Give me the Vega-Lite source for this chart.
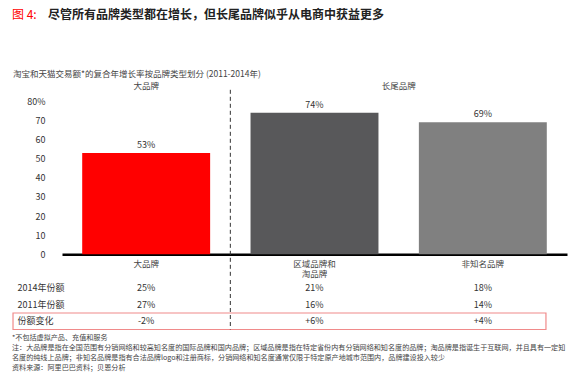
{
  "$schema": "https://vega.github.io/schema/vega-lite/v6.json",
  "padding": {"left": 12, "right": 10, "top": 8, "bottom": 4},
  "background": "white",
  "config": {
    "font": "Noto Sans CJK SC",
    "view": {"stroke": null},
    "concat": {"spacing": 0},
    "axis": {"labelOverlap": false}
  },
  "title": {
    "text": "图 4:",
    "subtitle": "\u200B\u3000\u3000\u3000尽管所有品牌类型都在增长，但长尾品牌似乎从电商中获益更多",
    "anchor": "start",
    "fontSize": 12,
    "fontWeight": "normal",
    "color": "#FF0000",
    "subtitleFontSize": 12,
    "subtitleFontWeight": "bold",
    "subtitleColor": "#222222",
    "subtitlePadding": -12,
    "offset": 48
  },
  "datasets": {
    "bars": [
      {"cat": "大品牌", "value": 53, "label": "53%"},
      {"cat": "区域品牌和淘品牌", "value": 74, "label": "74%"},
      {"cat": "非知名品牌", "value": 69, "label": "69%"}
    ],
    "table": [
      {"row": "2014年份额", "cat": "大品牌", "text": "25%"},
      {"row": "2014年份额", "cat": "区域品牌和淘品牌", "text": "21%"},
      {"row": "2014年份额", "cat": "非知名品牌", "text": "18%"},
      {"row": "2011年份额", "cat": "大品牌", "text": "27%"},
      {"row": "2011年份额", "cat": "区域品牌和淘品牌", "text": "16%"},
      {"row": "2011年份额", "cat": "非知名品牌", "text": "14%"},
      {"row": "份额变化", "cat": "大品牌", "text": "-2%"},
      {"row": "份额变化", "cat": "区域品牌和淘品牌", "text": "+6%"},
      {"row": "份额变化", "cat": "非知名品牌", "text": "+4%"}
    ]
  },
  "vconcat": [
    {
      "width": 505,
      "height": 168.3,
      "title": {
        "text": "淘宝和天猫交易额*的复合年增长率按品牌类型划分 (2011-2014年)",
        "anchor": "start",
        "frame": "group",
        "dx": -49,
        "fontSize": 8.5,
        "fontWeight": "normal",
        "color": "#444444",
        "offset": 4
      },
      "data": {"name": "bars"},
      "layer": [
        {
          "mark": {"type": "bar", "width": {"band": 0.76}},
          "encoding": {
            "x": {
              "field": "cat", "type": "nominal",
              "scale": {"domain": ["大品牌", "区域品牌和淘品牌", "非知名品牌"], "paddingInner": 0, "paddingOuter": 0},
              "axis": {
                "title": null, "labelAngle": 0, "ticks": false,
                "domainColor": "#000000", "domainWidth": 2.5,
                "labelPadding": 5, "labelFontSize": 8.5, "labelColor": "#444444",
                "labelLineHeight": 10.5, "labelBaseline": "top",
                "labelExpr": "datum.value == '区域品牌和淘品牌' ? ['区域品牌和', '淘品牌'] : datum.label"
              }
            },
            "y": {
              "field": "value", "type": "quantitative",
              "scale": {"domain": [0, 88], "nice": false},
              "axis": {
                "title": null, "values": [0, 10, 20, 30, 40, 50, 60, 70, 80], "tickCount": 9,
                "labelExpr": "datum.value == 80 ? '80%' : datum.label",
                "labelOverlap": false,
                "domain": false, "ticks": false, "grid": false,
                "labelPadding": 17, "labelFontSize": 9, "labelColor": "#333333"
              }
            },
            "color": {
              "field": "cat", "type": "nominal",
              "scale": {"domain": ["大品牌", "区域品牌和淘品牌", "非知名品牌"], "range": ["#FF0000", "#58585A", "#808080"]},
              "legend": null
            }
          }
        },
        {
          "mark": {"type": "text", "baseline": "bottom", "dy": -3, "fontSize": 9, "color": "#333333"},
          "encoding": {
            "x": {"field": "cat", "type": "nominal", "scale": {"domain": ["大品牌", "区域品牌和淘品牌", "非知名品牌"]}},
            "y": {"field": "value", "type": "quantitative",
              "axis": {
                "title": null, "values": [0, 10, 20, 30, 40, 50, 60, 70, 80], "tickCount": 9,
                "labelExpr": "datum.value == 80 ? '80%' : datum.label",
                "labelOverlap": false,
                "domain": false, "ticks": false, "grid": false,
                "labelPadding": 17, "labelFontSize": 9, "labelColor": "#333333"
              }},
            "text": {"field": "label"}
          }
        },
        {
          "data": {"values": [{"group": "大品牌", "cat": "大品牌"}]},
          "mark": {"type": "text", "baseline": "middle", "fontSize": 8.5, "color": "#444444"},
          "encoding": {
            "x": {"field": "cat", "type": "nominal", "scale": {"domain": ["大品牌", "区域品牌和淘品牌", "非知名品牌"]}},
            "y": {"datum": 88, "type": "quantitative",
              "axis": {
                "title": null, "values": [0, 10, 20, 30, 40, 50, 60, 70, 80], "tickCount": 9,
                "labelExpr": "datum.value == 80 ? '80%' : datum.label",
                "labelOverlap": false,
                "domain": false, "ticks": false, "grid": false,
                "labelPadding": 17, "labelFontSize": 9, "labelColor": "#333333"
              }},
            "text": {"field": "group"}
          }
        },
        {
          "data": {"values": [{"group": "长尾品牌", "cat": "区域品牌和淘品牌"}]},
          "mark": {"type": "text", "baseline": "middle", "fontSize": 8.5, "color": "#444444"},
          "encoding": {
            "x": {"field": "cat", "type": "nominal", "bandPosition": 1, "scale": {"domain": ["大品牌", "区域品牌和淘品牌", "非知名品牌"]}},
            "y": {"datum": 88, "type": "quantitative",
              "axis": {
                "title": null, "values": [0, 10, 20, 30, 40, 50, 60, 70, 80], "tickCount": 9,
                "labelExpr": "datum.value == 80 ? '80%' : datum.label",
                "labelOverlap": false,
                "domain": false, "ticks": false, "grid": false,
                "labelPadding": 17, "labelFontSize": 9, "labelColor": "#333333"
              }},
            "text": {"field": "group"}
          }
        },
        {
          "data": {"values": [{"cat": "大品牌"}]},
          "mark": {"type": "rule", "strokeDash": [4, 3], "color": "#333333", "strokeWidth": 1},
          "encoding": {
            "x": {"field": "cat", "type": "nominal", "bandPosition": 1, "scale": {"domain": ["大品牌", "区域品牌和淘品牌", "非知名品牌"]}},
            "y": {"datum": 86, "type": "quantitative",
              "axis": {
                "title": null, "values": [0, 10, 20, 30, 40, 50, 60, 70, 80], "tickCount": 9,
                "labelExpr": "datum.value == 80 ? '80%' : datum.label",
                "labelOverlap": false,
                "domain": false, "ticks": false, "grid": false,
                "labelPadding": 17, "labelFontSize": 9, "labelColor": "#333333"
              }},
            "y2": {"datum": -12}
          }
        }
      ]
    },
    {
      "width": 505,
      "height": 49.5,
      "title": {
        "text": [
          "*不包括虚拟产品、充值和服务",
          "注：大品牌是指在全国范围有分销网络和较高知名度的国际品牌和国内品牌；区域品牌是指在特定省份内有分销网络和知名度的品牌；淘品牌是指诞生于互联网，并且具有一定知",
          "名度的纯线上品牌；非知名品牌是指有合法品牌logo和注册商标，分销网络和知名度通常仅限于特定原产地城市范围内，品牌建设投入较少",
          "资料来源：阿里巴巴资料；贝恩分析"
        ],
        "orient": "bottom",
        "anchor": "start",
        "frame": "group",
        "dx": -50,
        "fontSize": 7.1,
        "fontWeight": "normal",
        "color": "#444444",
        "lineHeight": 10,
        "offset": 4
      },
      "data": {"name": "table"},
      "layer": [
        {
          "data": {"values": [{"row": "份额变化", "start": "大品牌", "end": "非知名品牌"}]},
          "mark": {"type": "rect", "filled": false, "color": "#F08A8A", "strokeWidth": 1.2},
          "encoding": {
            "x": {"field": "start", "type": "nominal", "bandPosition": -0.291, "scale": {"domain": ["大品牌", "区域品牌和淘品牌", "非知名品牌"], "paddingInner": 0, "paddingOuter": 0}, "axis": null},
            "x2": {"field": "end", "bandPosition": 0.875},
            "y": {"field": "row", "type": "nominal", "scale": {"domain": ["2014年份额", "2011年份额", "份额变化"], "paddingInner": 0, "paddingOuter": 0},
              "axis": {"title": null, "domain": false, "ticks": false, "tickSize": 0, "labelAlign": "left", "labelPadding": 45, "labelFontSize": 9, "labelColor": "#333333"}}
          }
        },
        {
          "data": {"values": [{"cat": "大品牌"}]},
          "mark": {"type": "rule", "strokeDash": [4, 3], "color": "#333333", "strokeWidth": 1},
          "encoding": {
            "x": {"field": "cat", "type": "nominal", "bandPosition": 1, "scale": {"domain": ["大品牌", "区域品牌和淘品牌", "非知名品牌"]}}
          }
        },
        {
          "mark": {"type": "text", "fontSize": 9, "color": "#333333"},
          "encoding": {
            "x": {"field": "cat", "type": "nominal", "scale": {"domain": ["大品牌", "区域品牌和淘品牌", "非知名品牌"]}},
            "y": {"field": "row", "type": "nominal", "scale": {"domain": ["2014年份额", "2011年份额", "份额变化"]}},
            "text": {"field": "text"}
          }
        }
      ]
    }
  ]
}
